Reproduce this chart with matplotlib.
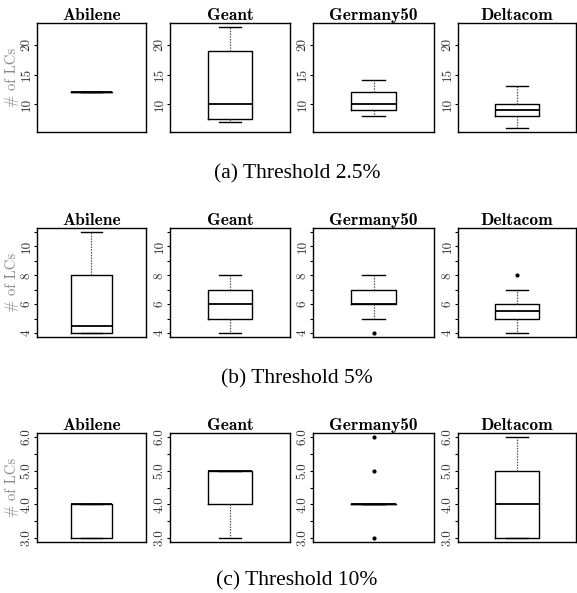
import numpy as np
import matplotlib
matplotlib.use('Agg')
import matplotlib.pyplot as plt

sites = ['Abilene', 'Geant', 'Germany50', 'Deltacom']
captions = ['(a) Threshold 2.5%', '(b) Threshold 5%', '(c) Threshold 10%']

# threshold 2.5%
whislo_a = [12, 7, 8, 6]
q1_a = [12, 7.5, 9, 8]
med_a = [12, 10, 10, 9]
q3_a = [12, 19, 12, 10]
whishi_a = [12, 23, 14, 13]
fliers_a = [[], [], [], []]

# threshold 5%
whislo_b = [4, 4, 5, 4]
q1_b = [4, 5, 6, 5]
med_b = [4.5, 6, 6, 5.5]
q3_b = [8, 7, 7, 6]
whishi_b = [11, 8, 8, 7]
fliers_b = [[], [], [4], [8]]

# threshold 10%
whislo_c = [3, 3, 4, 3]
q1_c = [3, 4, 4, 3]
med_c = [4, 5, 4, 4]
q3_c = [4, 5, 4, 5]
whishi_c = [4, 5, 4, 6]
fliers_c = [[], [], [3, 5, 6], []]

ticks_a = [10, 15, 20]
labels_a = ['10', '15', '20']
ticks_b = [4, 5, 6, 7, 8, 9, 10, 11]
labels_b = ['4', '', '6', '', '8', '', '10', '']
ticks_c = [3.0, 3.5, 4.0, 4.5, 5.0, 5.5, 6.0]
labels_c = ['3.0', '', '4.0', '', '5.0', '', '6.0']

rows = [
    (whislo_a, q1_a, med_a, q3_a, whishi_a, fliers_a, ticks_a, labels_a),
    (whislo_b, q1_b, med_b, q3_b, whishi_b, fliers_b, ticks_b, labels_b),
    (whislo_c, q1_c, med_c, q3_c, whishi_c, fliers_c, ticks_c, labels_c),
]

W, H = 577, 593
fig = plt.figure(figsize=(W / 100, H / 100), dpi=100)

cols_px = [(37, 146), (170, 290), (313, 434), (458, 576)]
rows_px = [(23, 132), (228, 337), (433, 542)]
caption_y = [174, 379, 581]

for r, (lo, q1, med, q3, hi, fl, ticks, labels) in enumerate(rows):
    allv = lo + hi + [v for f in fl for v in f]
    vmin, vmax = min(allv), max(allv)
    pad = (vmax - vmin) * 0.04
    top, bot = rows_px[r]
    for c in range(4):
        left, right = cols_px[c]
        ax = fig.add_axes([left / W, 1 - bot / H, (right - left) / W, (bot - top) / H])
        stats = [dict(whislo=lo[c], q1=q1[c], med=med[c], q3=q3[c], whishi=hi[c], fliers=fl[c])]
        ax.bxp(stats, positions=[1], widths=0.4, capwidths=0.2,
               boxprops=dict(color='black', linewidth=1.0),
               medianprops=dict(color='black', linewidth=1.3),
               whiskerprops=dict(color='#555555', linewidth=0.9, linestyle=(0, (1.2, 1.0))),
               capprops=dict(color='black', linewidth=1.0),
               flierprops=dict(marker='o', markersize=2, markerfacecolor='black',
                               markeredgecolor='black', linestyle='none'))
        ax.set_xlim(0.46, 1.54)
        ax.set_ylim(vmin - pad, vmax + pad)
        ax.set_xticks([])
        ax.set_yticks(ticks)
        ax.set_yticklabels(labels, rotation=90, va='center', family='cmr10',
                           fontsize=9.5, color='#333333')
        ax.tick_params(axis='y', length=2.5, width=0.8, pad=0.5)
        for s in ax.spines.values():
            s.set_linewidth(1.0)
        ax.set_title(sites[c], family='cmb10', fontsize=12.5, pad=1)
        if c == 0:
            ax.set_ylabel('# of LCs', family='cmr10', fontsize=10.5, color='#888888', labelpad=1.5)
    fig.text(297 / W, 1 - caption_y[r] / H, captions[r], ha='center', va='center',
             family='Liberation Serif', fontsize=15.5)

fig.savefig('out.png', dpi=100)
